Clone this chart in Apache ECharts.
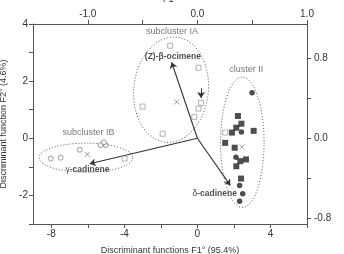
<!DOCTYPE html>
<html><head><meta charset="utf-8">
<script src="https://cdn.jsdelivr.net/npm/echarts@6/dist/echarts.min.js"></script>
<style>html,body{margin:0;padding:0;background:#fff}#c{width:344px;height:254px}</style>
</head><body><div id="c"></div>
<script>
// ---- data ----
const subIA = [[-1.49,3.24],[0.06,2.47],[0.2,1.24],[0.06,1.04],[-0.17,0.75],[-3.0,1.11],[-1.9,0.16],[-3.99,-0.71],[1.52,0.20]];
const subIB = [[-8.03,-0.71],[-7.49,-0.68],[-6.44,-0.40],[-5.3,-0.24],[-5.02,-0.24],[-5.12,-0.14]];
const clusterIISquares = [[2.22,0.78],[2.41,0.51],[2.13,0.37],[1.89,0.20],[3.08,0.26],[1.52,-0.16],[2.04,-0.33],[2.35,-0.80],[2.66,-0.74],[2.13,-0.98],[2.39,-1.41]];
const clusterIICircles = [[2.99,1.59],[2.41,0.22],[2.11,-0.66],[2.31,-1.65],[2.48,-1.94],[2.31,-2.2]];
const centroids = [[-1.13,1.27],[-6.02,-0.56],[2.44,-0.30]];
const vectorNames = ['(Z)-β-ocimene','γ-cadinene','δ-cadinene'];
const vectorEnds = [[-1.41,2.66],[-5.9,-0.89],[1.8,-1.65]];
const smallArrow = [[0.2,1.75],[0.2,1.41]];
// ellipses: centre x, centre y, half-width, half-height (data units), tilt (deg)
const ellipses = [[-1.44,1.7,2.04,1.85,6],[-6.1,-0.68,2.56,0.51,0],[2.46,-0.14,1.19,2.28,0]];
const groupNames = ['subcluster IA','subcluster IB','cluster II'];
const groupLabelPos = [[-1.39,3.72],[-5.96,0.21],[2.68,2.42]];
const vectorLabelPos = [[-1.34,2.84],[-6.02,-1.09],[0.95,-1.93]];
const xTicks = [-8,-6,-4,-2,0,2,4,6], xLabels = [-8,-4,0,4];
const yTicks = [-3,-2,-1,0,1,2,3,4], yLabels = [-2,0,2,4];
const topTicks = [-1.0,-0.5,0.0,0.5,1.0], topLabels = [-1.0,0.0,1.0];
const rightTicks = [-0.8,-0.4,0.0,0.4,0.8], rightLabels = [-0.8,0.0,0.8];

const FONT = '"Liberation Sans", Arial, sans-serif';
const axCol = '#555', txtCol = '#333';
function axisBase(extra){
  return Object.assign({
    type:'value', splitLine:{show:false},
    axisLine:{show:true,onZero:false,lineStyle:{color:axCol,width:1}},
    axisTick:{show:true,inside:false,length:4,lineStyle:{color:axCol}},
    axisLabel:{color:txtCol,fontSize:10,fontFamily:FONT,margin:5},
    nameTextStyle:{color:txtCol,fontSize:9,fontFamily:FONT},
    nameLocation:'middle'
  }, extra);
}
const xB = axisBase({min:-9,max:6,position:'bottom',name:'Discriminant functions F1° (95.4%)',nameGap:22});
xB.axisTick.customValues = xTicks; xB.axisLabel.customValues = xLabels;
const xT = axisBase({min:-1.5,max:1.0,position:'top',name:'F1°',nameGap:20});
xT.axisTick.customValues = topTicks; xT.axisLabel.customValues = topLabels; xT.axisLabel.formatter = v=>v.toFixed(1);
const yL = axisBase({min:-3,max:4,position:'left',name:'Discriminant function F2° (4.6%)',nameGap:19});
yL.axisTick.customValues = yTicks; yL.axisLabel.customValues = yLabels;
const yR = axisBase({min:-6/7,max:8/7,position:'right',name:'F2°',nameGap:30,nameRotate:-90});
yR.axisTick.customValues = rightTicks; yR.axisLabel.customValues = rightLabels; yR.axisLabel.margin = 7;
yR.axisLabel.formatter = v=>Math.abs(v)<1e-9?'0.0':v.toFixed(1);

const chart = echarts.init(document.getElementById('c'), null, {renderer:'canvas'});
chart.setOption({
  animation:false,
  backgroundColor:'#fff',
  grid:{left:33,right:37,top:24,bottom:30,containLabel:false,outerBoundsMode:'none'},
  xAxis:[xB,xT],
  yAxis:[yL,yR],
  series:[
    {type:'custom', xAxisIndex:0, yAxisIndex:0, clip:false, silent:true,
     data: ellipses,
     renderItem(params, api){
       const c = api.coord([api.value(0), api.value(1)]);
       const s = api.size([api.value(2), api.value(3)]);
       const r = api.value(4)*Math.PI/180;
       const pts=[];
       for(let i=0;i<90;i++){const t=2*Math.PI*i/90;const x=s[0]*Math.cos(t),y=s[1]*Math.sin(t);
         pts.push([c[0]+x*Math.cos(r)-y*Math.sin(r), c[1]+x*Math.sin(r)+y*Math.cos(r)]);}
       return {type:'polygon',shape:{points:pts},style:{fill:'none',stroke:'#555',lineWidth:1,lineDash:[1,2]}};
     }},
    {type:'lines', coordinateSystem:'cartesian2d', xAxisIndex:0, yAxisIndex:0, silent:true,
     symbol:['none','arrow'], symbolSize:[0,6],
     lineStyle:{color:'#333',width:1.1,opacity:1},
     data: vectorEnds.map(e=>({coords:[[0,0],e]})).concat([{coords:smallArrow, lineStyle:{width:1}}])},
    {type:'scatter', name:'IA', data:subIA, symbol:'rect', symbolSize:5,
     itemStyle:{color:'#fff',borderColor:'#888',borderWidth:0.8}},
    {type:'scatter', name:'IB', data:subIB, symbol:'circle', symbolSize:5,
     itemStyle:{color:'#fff',borderColor:'#666',borderWidth:0.8}},
    {type:'scatter', name:'IIs', data:clusterIISquares, symbol:'rect', symbolSize:6,
     itemStyle:{color:'#222'}},
    {type:'scatter', name:'IIc', data:clusterIICircles, symbol:'circle', symbolSize:5.5,
     itemStyle:{color:'#222'}},
    {type:'scatter', name:'centroid', data:centroids, symbol:'path://M0,0L10,10M10,0L0,10', symbolSize:5,
     itemStyle:{color:'none',borderColor:'#777',borderWidth:0.9}},
    {type:'scatter', silent:true, symbolSize:1, itemStyle:{color:'transparent'},
     data: groupNames.map((n,i)=>({value:groupLabelPos[i], name:n})),
     label:{show:true,position:'inside',formatter:p=>p.name,color:'#555',fontSize:9,fontFamily:FONT}},
    {type:'scatter', silent:true, symbolSize:1, itemStyle:{color:'transparent'},
     data: vectorNames.map((n,i)=>({value:vectorLabelPos[i], name:n})),
     label:{show:true,position:'inside',color:'#222',fontSize:8.5,fontFamily:FONT,
       formatter:p=>{const n=p.name;const k=n.indexOf('-cad');
         if(k>0) return '{g|'+n.slice(0,k)+'}{b|'+n.slice(k)+'}';
         return '{b|'+n+'}';},
       rich:{g:{fontSize:8.5,fontFamily:FONT,color:'#222'},b:{fontSize:8.5,fontWeight:'bold',fontFamily:FONT,color:'#222'}}}}
  ]
});
</script></body></html>
